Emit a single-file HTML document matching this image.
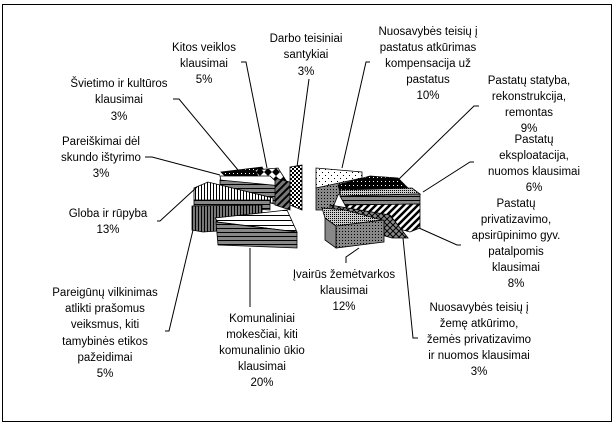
<!DOCTYPE html>
<html><head><meta charset="utf-8"><style>
html,body{margin:0;padding:0;background:#fff}
svg{display:block}
text{font-family:"Liberation Sans",Arial,sans-serif;font-size:11.5px;fill:#000;text-anchor:middle}
</style></head><body>
<svg width="615" height="426" viewBox="0 0 615 426" xmlns="http://www.w3.org/2000/svg">
<defs>
<pattern id="vl" width="3" height="3" patternUnits="userSpaceOnUse"><rect width="3" height="3" fill="#fff"/><rect width="1" height="3" fill="#000"/></pattern>
<pattern id="hl" width="4" height="4" patternUnits="userSpaceOnUse"><rect width="4" height="4" fill="#888"/><rect width="4" height="1" fill="#000"/></pattern>
<pattern id="hlw" width="5" height="5" patternUnits="userSpaceOnUse"><rect width="5" height="5" fill="#fff"/><rect width="5" height="1" fill="#000"/></pattern>
<pattern id="vlg" width="3" height="3" patternUnits="userSpaceOnUse"><rect width="3" height="3" fill="#777"/><rect width="1" height="3" fill="#000"/></pattern>
<pattern id="dot" width="6" height="6" patternUnits="userSpaceOnUse"><rect width="6" height="6" fill="#fff"/><rect x="1" y="1" width="1" height="1" fill="#000"/><rect x="4" y="4" width="1" height="1" fill="#000"/></pattern>
<pattern id="dotg" width="3" height="3" patternUnits="userSpaceOnUse"><rect width="3" height="3" fill="#888"/><rect width="1" height="1" fill="#000"/></pattern>
<pattern id="chk" width="4" height="4" patternUnits="userSpaceOnUse"><rect width="4" height="4" fill="#fff"/><rect width="2" height="2" fill="#000"/><rect x="2" y="2" width="2" height="2" fill="#000"/></pattern>
<pattern id="blk" width="4" height="4" patternUnits="userSpaceOnUse"><rect width="4" height="4" fill="#000"/><rect x="1" y="1" width="1" height="1" fill="#fff"/></pattern>
<pattern id="dg" width="7" height="7" patternUnits="userSpaceOnUse"><rect width="7" height="7" fill="#777"/><path d="M0 7L7 0M-1 1L1 -1M6 8L8 6" stroke="#000" stroke-width="2"/></pattern>
<pattern id="dgw" width="7" height="7" patternUnits="userSpaceOnUse"><rect width="7" height="7" fill="#fff"/><path d="M0 7L7 0M-1 1L1 -1M6 8L8 6" stroke="#000" stroke-width="2.5"/></pattern>
<pattern id="xh" width="6" height="6" patternUnits="userSpaceOnUse"><rect width="6" height="6" fill="#888"/><path d="M0 6L6 0M0 0L6 6" stroke="#000" stroke-width="1"/></pattern>
<pattern id="dia" width="8" height="8" patternUnits="userSpaceOnUse"><rect width="8" height="8" fill="#fff"/><path d="M4 0L8 4L4 8L0 4Z" fill="#000"/></pattern>
<pattern id="fine" width="2" height="2" patternUnits="userSpaceOnUse"><rect width="2" height="2" fill="#ccc"/><rect width="1" height="1" fill="#000"/></pattern>
</defs>
<rect x="2.5" y="4.5" width="609" height="417" fill="#fff" stroke="#000"/>

<!-- left group -->
<polygon points="221,172 262,167 270,180 232,183" fill="url(#blk)" stroke="#000" stroke-width="0.8"/>
<polygon points="255,170 278,168 287,182 262,184" fill="url(#dia)" stroke="#000" stroke-width="0.8"/>
<polygon points="220,176 270,176 285,190 222,186" fill="#fff" stroke="#000" stroke-width="0.8"/>
<polygon points="220,180 282,186 282,206 220,190" fill="url(#hl)" stroke="#000" stroke-width="0.8"/>
<polygon points="275,178 290,182 290,210 275,205" fill="url(#dg)" stroke="#000" stroke-width="0.8"/>
<polygon points="290,167 302,165 302,210 290,205" fill="url(#chk)" stroke="#000" stroke-width="0.8"/>
<polygon points="194,188 208,182 273,198 273,203 194,200" fill="url(#vl)" stroke="#000" stroke-width="0.8"/>
<polygon points="194,200 270,200 270,210 194,206" fill="url(#hl)" stroke="#000" stroke-width="0.8"/>
<polygon points="192,206 262,205 262,228 203,232 192,230" fill="url(#vlg)" stroke="#000" stroke-width="0.8"/>
<polygon points="215,218 287,210 297,232 218,222" fill="url(#hlw)" stroke="#000" stroke-width="0.8"/>
<polygon points="216,222 297,232 297,248 218,245" fill="url(#hl)" stroke="#000" stroke-width="0.8"/>

<!-- right group -->
<polygon points="316,168 362,172 362,180 316,188" fill="url(#dot)" stroke="#000" stroke-width="0.8"/>
<polygon points="316,188 362,178 338,195 332,210 316,210" fill="url(#dotg)" stroke="#000" stroke-width="0.8"/>
<polygon points="338,185 370,176 398,178 408,188 340,192" fill="url(#blk)" stroke="#000" stroke-width="0.8"/>
<polygon points="340,190 412,188 420,194 340,196" fill="url(#fine)" stroke="#000" stroke-width="0.8"/>
<polygon points="340,196 420,194 420,204 345,205" fill="url(#hl)" stroke="#000" stroke-width="0.8"/>
<polygon points="345,205 420,204 420,228 410,232 350,215" fill="url(#dgw)" stroke="#000" stroke-width="0.8"/>
<polygon points="330,205 390,215 408,238 392,238 330,220" fill="url(#xh)" stroke="#000" stroke-width="0.8"/>
<polygon points="322,208 345,210 382,220 336,226 325,218" fill="url(#fine)" stroke="#000" stroke-width="0.8"/>
<polygon points="336,226 384,220 384,242 336,248" fill="url(#dotg)" stroke="#000" stroke-width="0.8"/>
<polygon points="325,218 336,226 336,248 325,240" fill="#888" stroke="#000" stroke-width="0.8"/>

<!-- leader lines -->
<g stroke="#000" fill="none" stroke-width="1">
<polyline points="241,62 246,62 267,168"/>
<polyline points="309,79 297,167"/>
<polyline points="173,99 179,99 238,170"/>
<polyline points="145,157 152,157 220,175"/>
<polyline points="157,221 160,221 197,187"/>
<polyline points="165,331 169,331 193,230"/>
<polyline points="250,248 250,307"/>
<polyline points="346,263 346,257 359,248"/>
<polyline points="418,338 413,338 403,238"/>
<polyline points="461,245 457,245 419,228"/>
<polyline points="474,162 470,162 423,192"/>
<polyline points="479,106 474,106 398,180"/>
<polyline points="370,62 366,62 342,168"/>
</g>

<g>
<text x="306" y="42">Darbo teisiniai</text><text x="306" y="58">santykiai</text><text x="306" y="75">3%</text>
<text x="204" y="51">Kitos veiklos</text><text x="204" y="67">klausimai</text><text x="204" y="83">5%</text>
<text x="119" y="87">Švietimo ir kultūros</text><text x="119" y="103">klausimai</text><text x="119" y="120">3%</text>
<text x="101" y="145">Pareiškimai dėl</text><text x="101" y="161">skundo ištyrimo</text><text x="101" y="177">3%</text>
<text x="108" y="217">Globa ir rūpyba</text><text x="108" y="233">13%</text>
<text x="105" y="296">Pareigūnų vilkinimas</text><text x="105" y="312">atlikti prašomus</text><text x="105" y="328">veiksmus, kiti</text><text x="105" y="345">tamybinės etikos</text><text x="105" y="361">pažeidimai</text><text x="105" y="377">5%</text>
<text x="262" y="322">Komunaliniai</text><text x="262" y="338">mokesčiai, kiti</text><text x="262" y="354">komunalinio ūkio</text><text x="262" y="370">klausimai</text><text x="262" y="386">20%</text>
<text x="344" y="278">Įvairūs žemėtvarkos</text><text x="344" y="294">klausimai</text><text x="344" y="310">12%</text>
<text x="479" y="311">Nuosavybės teisių į</text><text x="479" y="327">žemę atkūrimo,</text><text x="479" y="343">žemės privatizavimo</text><text x="479" y="359">ir nuomos klausimai</text><text x="479" y="375">3%</text>
<text x="428" y="35">Nuosavybės teisių į</text><text x="428" y="51">pastatus atkūrimas</text><text x="428" y="67">kompensacija už</text><text x="428" y="83">pastatus</text><text x="428" y="99">10%</text>
<text x="529" y="84">Pastatų statyba,</text><text x="529" y="100">rekonstrukcija,</text><text x="529" y="116">remontas</text><text x="529" y="132">9%</text>
<text x="534" y="143">Pastatų</text><text x="534" y="159">eksploatacija,</text><text x="534" y="175">nuomos klausimai</text><text x="534" y="191">6%</text>
<text x="516" y="207">Pastatų</text><text x="516" y="223">privatizavimo,</text><text x="516" y="239">apsirūpinimo gyv.</text><text x="516" y="255">patalpomis</text><text x="516" y="271">klausimai</text><text x="516" y="287">8%</text>
</g>
</svg>
</body></html>
